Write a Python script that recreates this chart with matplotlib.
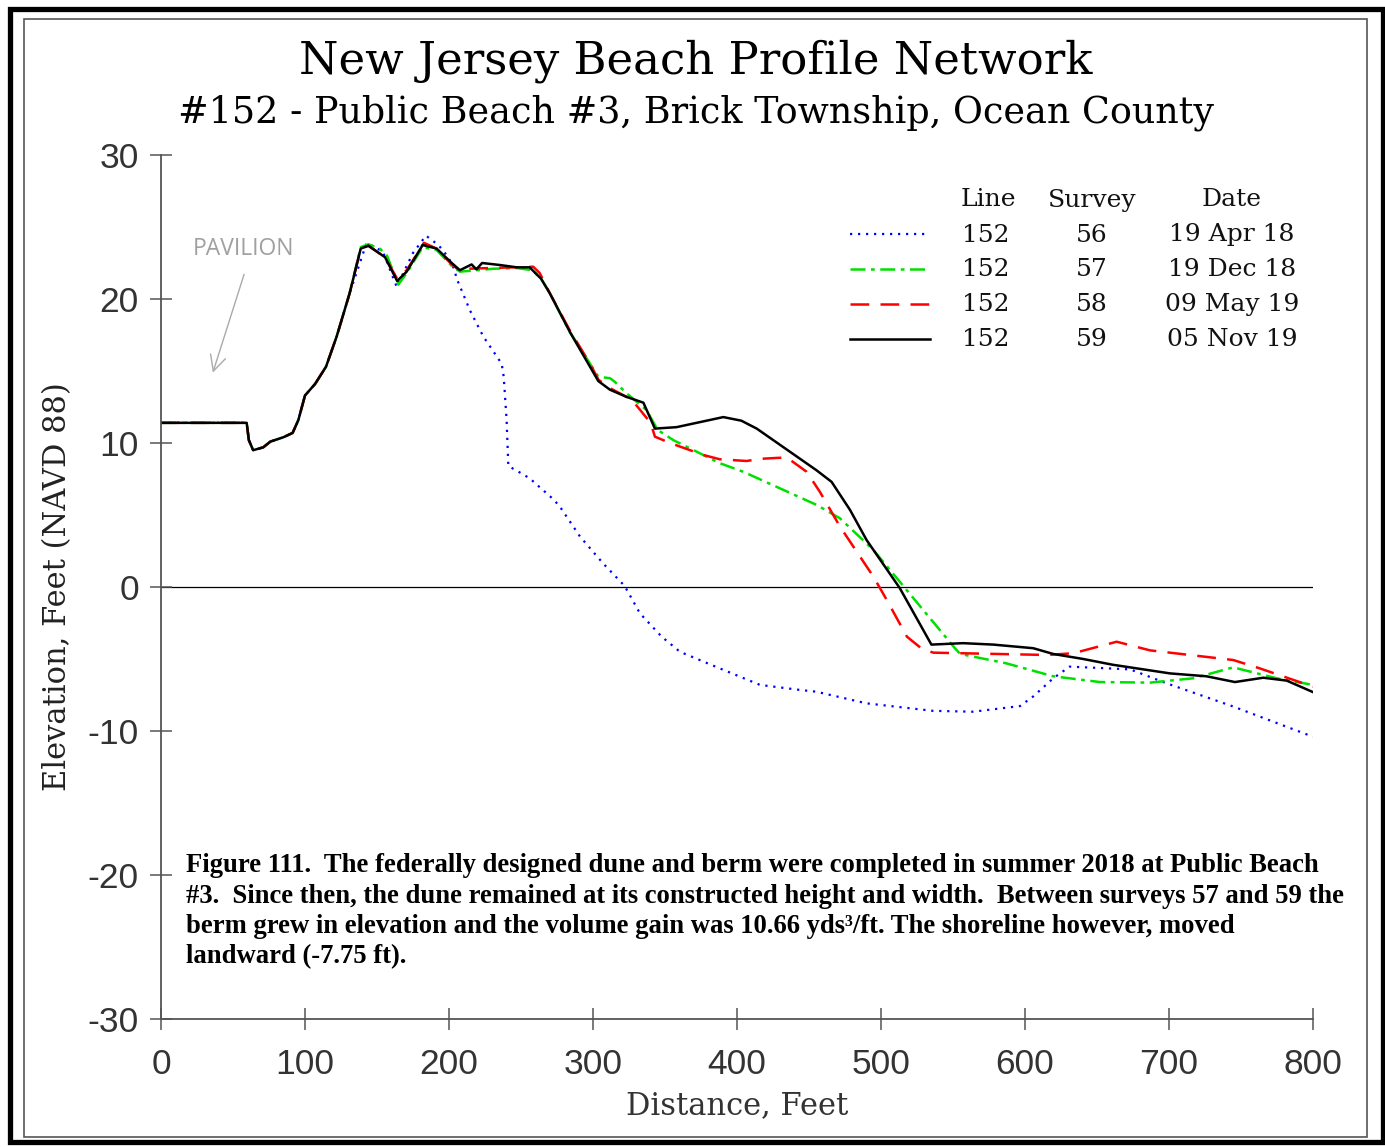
import matplotlib
matplotlib.use("Agg")
import matplotlib.pyplot as plt
from matplotlib.lines import Line2D
from matplotlib.patches import Rectangle

plt.rcParams["axes.unicode_minus"] = False

W, H = 1385, 1147

# survey 56, 19 Apr 18
x56 = [0, 59.5, 61, 64, 71, 76, 85, 91.4, 95.4, 100, 107, 114.6, 122, 131, 142.8, 154,
       163.7, 175, 184, 192.6, 199.5, 204, 205, 214.6, 223.8, 236.6, 238, 240, 241.2, 247,
       256, 272.5, 277, 291, 307, 322, 332.6, 347.7, 360.4, 388, 416, 443.8, 455, 490,
       536, 564, 596.5, 605.7, 619.6, 631, 673, 698.4, 744.6, 800]
y56 = [11.4, 11.4, 10.2, 9.5, 9.7, 10.1, 10.4, 10.7, 11.6, 13.3, 14.1, 15.3, 17.4, 20.4, 23.9, 23.3,
       20.85, 23.2, 24.4, 23.75, 22.9, 22.0, 21.5, 19.2, 17.4, 15.5, 14.6, 11.6, 8.4, 8.08,
       7.55, 6.09, 5.58, 3.5, 1.64, 0.07, -1.83, -3.45, -4.5, -5.65, -6.8, -7.15, -7.27, -8.08,
       -8.6, -8.66, -8.27, -7.6, -6.34, -5.53, -5.72, -6.69, -8.3, -10.4]

# survey 57, 19 Dec 18
x57 = [0, 59.5, 61, 64, 71, 76, 85, 91.4, 95.4, 100, 107, 114.6, 122, 131, 138.7, 144, 152,
       157, 164.8, 170.6, 181.7, 191.4, 201.9, 207.6, 220, 230.6, 247, 258, 264, 270, 284,
       303.7, 311.8, 315, 323.4, 337, 345, 355.8, 388, 404.4, 455.3, 471.5, 494.7, 513,
       551.4, 555, 587, 619.6, 652, 686.8, 716.8, 744.6, 774.8, 800]
y57 = [11.4, 11.4, 10.2, 9.5, 9.7, 10.1, 10.4, 10.7, 11.6, 13.3, 14.1, 15.3, 17.4, 20.4, 23.6, 23.8, 23.5,
       23.0, 21.0, 21.8, 23.6, 23.4, 22.3, 21.9, 22.0, 22.1, 22.15, 22.0, 21.4, 20.4, 17.7,
       14.6, 14.5, 14.26, 13.45, 12.3, 10.9, 10.2, 8.6, 8.0, 5.7, 4.77, 2.57, 0.37,
       -4.26, -4.65, -5.3, -6.2, -6.6, -6.64, -6.34, -5.58, -6.34, -6.8]

# survey 58, 09 May 19
x58 = [0, 59.5, 61, 64, 71, 76, 85, 91.4, 95.4, 100, 107, 114.6, 122, 131, 138.7, 144, 155.6,
       164, 170.6, 182.6, 191.4, 201.9, 207, 212, 258.5, 263, 270, 284, 298, 303.7, 312,
       327, 340, 343, 353.5, 376.6, 388, 406.7, 416, 434.5, 448.4, 457.6, 471.5, 494.7,
       504, 518, 528, 536.3, 615, 633.6, 663.7, 686.8, 744.6, 763, 800]
y58 = [11.4, 11.4, 10.2, 9.5, 9.7, 10.1, 10.4, 10.7, 11.6, 13.3, 14.1, 15.3, 17.4, 20.4, 23.5, 23.7, 22.9,
       21.4, 22.0, 23.9, 23.5, 22.4, 22.0, 22.1, 22.24, 21.8, 20.4, 17.8, 15.5, 14.4, 13.8,
       13.0, 11.4, 10.44, 10.0, 9.17, 8.87, 8.75, 8.9, 9.0, 8.0, 6.6, 4.2, 0.72,
       -0.9, -3.45, -4.26, -4.56, -4.72, -4.6, -3.8, -4.4, -5.07, -5.65, -6.92]

# survey 59, 05 Nov 19
x59 = [0, 59.5, 61, 64, 71, 76, 85, 91.4, 95.4, 100, 107, 114.6, 122, 131, 138.7, 144, 155.6,
       164, 170.6, 181.7, 191.4, 201.9, 207.6, 215.7, 219, 223, 235.4, 247, 256, 264, 270,
       284, 303.7, 311.8, 323.4, 335, 343, 358, 390.5, 403, 413.7, 455.3, 465.7, 478.5,
       490, 513, 535, 557, 578, 605.7, 619.6, 640.5, 661, 700.7, 726, 745.8, 765.5, 781.7, 800]
y59 = [11.4, 11.4, 10.2, 9.5, 9.7, 10.1, 10.4, 10.7, 11.6, 13.3, 14.1, 15.3, 17.4, 20.4, 23.5, 23.7, 22.9,
       21.25, 21.9, 23.75, 23.5, 22.5, 22.0, 22.4, 22.06, 22.5, 22.36, 22.2, 22.2, 21.4, 20.4,
       17.7, 14.3, 13.7, 13.2, 12.8, 11.0, 11.1, 11.8, 11.55, 11.0, 8.1, 7.3, 5.35,
       3.26, -0.07, -4.0, -3.9, -4.0, -4.25, -4.65, -5.0, -5.4, -6.0, -6.2, -6.6, -6.3, -6.5, -7.3]

LINES = ["152", "152", "152", "152"]
SURVEYS = ["56", "57", "58", "59"]
DATES = ["19 Apr 18", "19 Dec 18", "09 May 19", "05 Nov 19"]

XTICKS = [0, 100, 200, 300, 400, 500, 600, 700, 800]
YTICKS = [30, 20, 10, 0, -10, -20, -30]

CAPTION = [
    "Figure 111.  The federally designed dune and berm were completed in summer 2018 at Public Beach",
    "#3.  Since then, the dune remained at its constructed height and width.  Between surveys 57 and 59 the",
    "berm grew in elevation and the volume gain was 10.66 yds\u00b3/ft. The shoreline however, moved",
    "landward (-7.75 ft).",
]

STYLES = [
    dict(color="#0000ff", lw=1.6, dashes=(1.0, 2.6)),
    dict(color="#00e000", lw=1.8, dashes=(6, 2.2, 1.5, 2.2)),
    dict(color="#ff0000", lw=1.8, dashes=(7.5, 4.5)),
    dict(color="#000000", lw=1.8),
]

SERIF = "DejaVu Serif"
SANS = "Liberation Sans"


def fx(px):
    return px / W


def fy(py):
    return 1 - py / H


fig = plt.figure(figsize=(W / 100, H / 100), dpi=100)
fig.patch.set_facecolor("white")

# frame around the whole figure
fig.add_artist(Rectangle((fx(9.5), fy(1142)), fx(1373), 1133 / H, transform=fig.transFigure,
                         fill=False, ec="black", lw=3.8))
fig.add_artist(Rectangle((fx(24), fy(1137)), fx(1343), 1118 / H, transform=fig.transFigure,
                         fill=False, ec="#555555", lw=1.2))

ax = fig.add_axes([fx(161), fy(1019), fx(1152), 864 / H])

series = [(x56, y56), (x57, y57), (x58, y58), (x59, y59)]
for (xs, ys), st in zip(series, STYLES):
    ax.plot(xs, ys, solid_joinstyle="round", dash_joinstyle="round", **st)

ax.axhline(0, color="black", lw=0.9, zorder=1)

ax.set_xlim(0, 800)
ax.set_ylim(-30, 30)
ax.set_xticks(XTICKS)
ax.set_yticks(YTICKS)
for s in ["top", "right"]:
    ax.spines[s].set_visible(False)
for s in ["left", "bottom"]:
    ax.spines[s].set_color("#555555")
    ax.spines[s].set_linewidth(1.3)
ax.tick_params(direction="inout", length=16, width=1.1, color="#555555",
               labelsize=25.5, labelcolor="#333333")
ax.tick_params(axis="y", pad=8)
ax.tick_params(axis="x", pad=13)
for lab in ax.get_xticklabels() + ax.get_yticklabels():
    lab.set_fontfamily(SANS)

# axis labels
fig.text(fx(737), fy(1106), "Distance, Feet", ha="center", va="center",
         fontfamily=SERIF, fontsize=22, color="#333333")
fig.text(fx(58), fy(587), "Elevation, Feet (NAVD 88)", ha="center", va="center",
         rotation=90, fontfamily=SERIF, fontsize=22, color="#222222")

# pavilion note
ax.annotate("", xy=(35.4, 14.7), xytext=(58.3, 21.9),
            arrowprops=dict(arrowstyle="->", color="#aaaaaa", lw=1.0, mutation_scale=28))
ax.text(57, 23.5, "PAVILION", ha="center", va="center", color="#a0a0a0",
        fontsize=16.5, fontfamily="Open Sans")

# titles
fig.text(fx(696), fy(61), "New Jersey Beach Profile Network", ha="center", va="center",
         fontfamily=SERIF, fontsize=32.4)
fig.text(fx(696), fy(113), "#152 - Public Beach #3, Brick Township, Ocean County",
         ha="center", va="center", fontfamily=SERIF, fontsize=26.3)

# legend table
rows_y = [234, 269, 304, 339]
for txt, cx in [("Line", 988), ("Survey", 1092), ("Date", 1232)]:
    fig.text(fx(cx), fy(200), txt, ha="center", va="center", fontfamily=SERIF, fontsize=18,
             color="#111111")
for ry, st, ln, sv, dt in zip(rows_y, STYLES, LINES, SURVEYS, DATES):
    fig.add_artist(Line2D([fx(850), fx(930)], [fy(ry), fy(ry)], transform=fig.transFigure, **st))
    fig.text(fx(986), fy(ry + 1), ln, ha="center", va="center", fontfamily=SERIF, fontsize=18,
             color="#111111")
    fig.text(fx(1092), fy(ry + 1), sv, ha="center", va="center", fontfamily=SERIF, fontsize=18,
             color="#111111")
    fig.text(fx(1232), fy(ry + 1), dt, ha="center", va="center", fontfamily=SERIF, fontsize=18,
             color="#111111")

# caption
for i, line in enumerate(CAPTION):
    fig.text(fx(186), fy(866 + 30.3 * i), line, ha="left", va="center",
             fontfamily="Liberation Serif", fontweight="bold", fontsize=19.2)

fig.savefig("out.png", dpi=100)
